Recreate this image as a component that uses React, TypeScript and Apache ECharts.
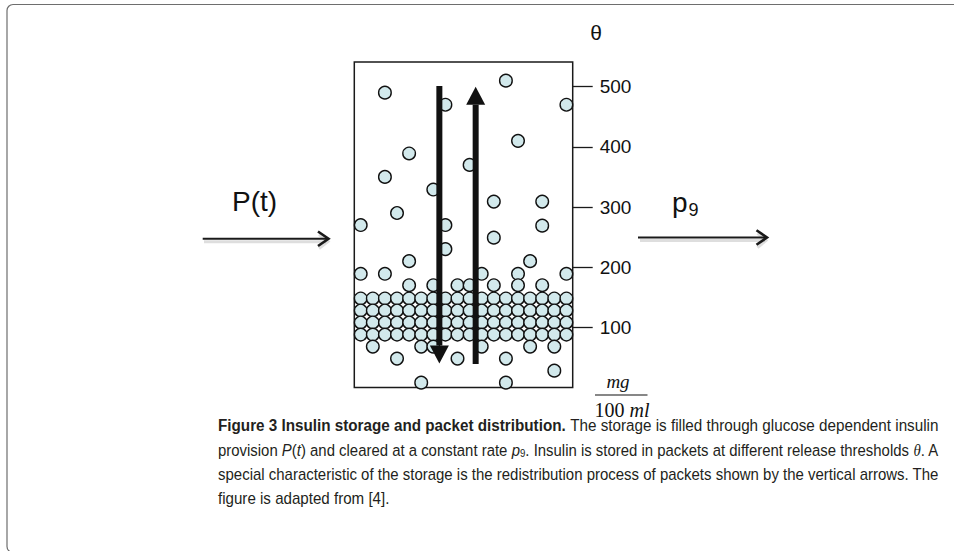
import React, { useEffect, useRef } from "react";
import * as echarts from "echarts";

// Release thresholds (mg/100ml) shown on the right axis
const thetaMin = 100;
const thetaMax = 541;
const thetaStep = 100;

// Dense packet band: column positions and threshold rows
const bandCols = [0, 1, 2, 3, 4, 5, 6, 7, 8, 9, 10, 11, 12, 13, 14, 15, 16, 17];
const bandRows = [148, 128, 108, 88];

// Loose packets: column position and threshold
const looseCol = [2, 7, 12, 17, 13, 4, 2, 9, 6, 11, 15, 3, 0, 7, 15, 11, 7, 4, 14, 0, 2, 10, 13, 17, 4, 6, 8, 9, 11, 13, 15, 1, 5, 6, 10, 14, 16, 3, 8, 12, 16, 5, 12];
const looseTheta = [490, 470, 510, 470, 410, 389, 350, 370, 329, 309, 309, 290, 270, 270, 269, 249, 230, 210, 210, 189, 189, 189, 189, 189, 170, 170, 170, 170, 170, 170, 170, 68, 68, 68, 68, 68, 68, 48, 48, 48, 28, 8, 8];

// Redistribution arrows: column, start threshold, end threshold (tip)
const arrowCol = [6.5, 9.5];
const arrowStart = [501, 39];
const arrowEnd = [40, 500];

export default function App() {
  const ref = useRef<HTMLDivElement>(null);
  useEffect(() => {
    if (!ref.current) return;
    const chart = echarts.init(ref.current, null, { renderer: "svg" });

    const packets: number[][] = [];
    bandRows.forEach((r) => bandCols.forEach((c) => packets.push([c, r])));
    looseCol.forEach((c, i) => packets.push([c, looseTheta[i]]));

    const arrows = arrowCol.map((c, i) => [c, arrowStart[i], arrowEnd[i]]);

    const pxPerUnit = 325.5 / 541;

    const capFont = "'Liberation Sans', Arial, sans-serif";
    const capColor = "#231f20";
    const capSize = 17;
    const rich = {
      b: { fontFamily: capFont, fontSize: capSize, fontWeight: "bold" as const, fill: capColor },
      r: { fontFamily: capFont, fontSize: capSize, fill: capColor },
      i: { fontFamily: capFont, fontSize: capSize, fontStyle: "italic" as const, fill: capColor },
      s: { fontFamily: capFont, fontSize: 11, fill: capColor, verticalAlign: "bottom" as const },
      th: { fontFamily: "'Liberation Serif', serif", fontSize: capSize, fontStyle: "italic" as const, fill: capColor },
    };

    const shadowLine = (x1: number, x2: number, y: number) => ({
      type: "line",
      shape: { x1, y1: y + 3, x2, y2: y + 3 },
      style: { stroke: "rgba(0,0,0,0.13)", lineWidth: 3 },
      silent: true,
    });

    const caption = (y: number, scaleX: number, text: string) => ({
      type: "text",
      x: 218,
      y,
      scaleX,
      style: { text, verticalAlign: "middle", rich },
    });

    chart.setOption({
      animation: false,
      backgroundColor: "#ffffff",
      grid: [
        {
          left: 354.3,
          top: 62,
          width: 218.4,
          height: 325.5,
          show: true,
          borderColor: "#1a1a1a",
          borderWidth: 1.5,
          backgroundColor: "transparent",
        },
        {
          left: 354.3,
          top: 62,
          width: 218.4,
          height: (thetaMax - thetaMin) * pxPerUnit,
          show: false,
        },
      ],
      xAxis: [
        { type: "value", min: -0.53, max: 17.52, show: false, gridIndex: 0 },
        { type: "value", min: 0, max: 1, show: false, gridIndex: 1 },
      ],
      yAxis: [
        { type: "value", min: 0, max: 541, show: false, gridIndex: 0 },
        {
          type: "value",
          gridIndex: 1,
          position: "right",
          min: thetaMin,
          max: thetaMax,
          interval: thetaStep,
          axisLine: { show: false, onZero: false },
          splitLine: { show: false },
          axisTick: {
            show: true,
            inside: false,
            length: 20,
            lineStyle: { color: "#1a1a1a", width: 1.3 },
          },
          axisLabel: {
            margin: 27,
            fontSize: 19,
            color: "#111",
            showMaxLabel: false,
            fontFamily: "'Liberation Sans', Arial, sans-serif",
          },
        },
      ],
      series: [
        {
          type: "scatter",
          xAxisIndex: 0,
          yAxisIndex: 0,
          data: packets,
          symbol: "circle",
          symbolSize: 12.6,
          clip: false,
          z: 2,
          itemStyle: { color: "#d2e9ec", borderColor: "#111", borderWidth: 1.4, opacity: 1 },
        },
        {
          type: "custom",
          xAxisIndex: 0,
          yAxisIndex: 0,
          z: 4,
          clip: false,
          data: arrows,
          renderItem: (params: any, api: any) => {
            const x = api.value(0);
            const p0 = api.coord([x, api.value(1)]);
            const p1 = api.coord([x, api.value(2)]);
            const dir = p1[1] > p0[1] ? 1 : -1;
            const hl = 18;
            const hw = 9.5;
            return {
              type: "group",
              children: [
                {
                  type: "line",
                  shape: { x1: p0[0], y1: p0[1], x2: p1[0], y2: p1[1] - dir * hl },
                  style: { stroke: "#111", lineWidth: 6 },
                },
                {
                  type: "polygon",
                  shape: {
                    points: [
                      [p1[0], p1[1]],
                      [p1[0] - hw, p1[1] - dir * hl],
                      [p1[0] + hw, p1[1] - dir * hl],
                    ],
                  },
                  style: { fill: "#111" },
                },
              ],
            };
          },
        },
      ],
      graphic: [
        {
          type: "rect",
          shape: { x: 7, y: 4.5, width: 1000, height: 548, r: 6 },
          style: { fill: "none", stroke: "#6e6e6e", lineWidth: 1.2 },
          silent: true,
        },
        // theta label
        {
          type: "text",
          x: 596,
          y: 32,
          style: { text: "θ", font: "21px 'Liberation Sans', Arial, sans-serif", fill: "#111", align: "center", verticalAlign: "middle" },
        },
        // input arrow P(t)
        {
          type: "text",
          x: 254.5,
          y: 201,
          style: { text: "P(t)", font: "28px 'Liberation Sans', Arial, sans-serif", fill: "#111", align: "center", verticalAlign: "middle" },
        },
        shadowLine(204, 326, 238.7),
        {
          type: "polyline",
          shape: { points: [[319, 234.5], [328, 241.5], [319, 248.5]] },
          style: { stroke: "rgba(0,0,0,0.13)", lineWidth: 3, fill: "none" },
          silent: true,
        },
        {
          type: "line",
          shape: { x1: 202.7, y1: 238.7, x2: 327.5, y2: 238.7 },
          style: { stroke: "#1a1a1a", lineWidth: 2 },
        },
        {
          type: "polyline",
          shape: { points: [[318, 231.5], [328.5, 238.7], [318, 246]] },
          style: { stroke: "#1a1a1a", lineWidth: 2.6, fill: "none" },
        },
        // output arrow p9
        {
          type: "text",
          x: 672,
          y: 202,
          style: { text: "p", font: "28px 'Liberation Sans', Arial, sans-serif", fill: "#111", align: "left", verticalAlign: "middle" },
        },
        {
          type: "text",
          x: 688.5,
          y: 210,
          style: { text: "9", font: "18px 'Liberation Sans', Arial, sans-serif", fill: "#111", align: "left", verticalAlign: "middle" },
        },
        shadowLine(640, 765, 237.5),
        {
          type: "polyline",
          shape: { points: [[757.5, 233.3], [766, 240.5], [757.5, 247.7]] },
          style: { stroke: "rgba(0,0,0,0.13)", lineWidth: 3, fill: "none" },
          silent: true,
        },
        {
          type: "line",
          shape: { x1: 638, y1: 237.5, x2: 766, y2: 237.5 },
          style: { stroke: "#1a1a1a", lineWidth: 2 },
        },
        {
          type: "polyline",
          shape: { points: [[756.5, 230.3], [767, 237.5], [756.5, 244.7]] },
          style: { stroke: "#1a1a1a", lineWidth: 2.6, fill: "none" },
        },
        // unit fraction
        {
          type: "text",
          x: 618,
          y: 381,
          style: { text: "mg", font: "italic 19px 'Liberation Serif', serif", fill: "#111", align: "center", verticalAlign: "middle" },
        },
        {
          type: "line",
          shape: { x1: 595, y1: 395, x2: 647.5, y2: 395 },
          style: { stroke: "#111", lineWidth: 1.1 },
        },
        {
          type: "text",
          x: 622,
          y: 410,
          style: {
            text: "{n|100 }{m|ml}",
            align: "center",
            verticalAlign: "middle",
            rich: {
              n: { font: "20px 'Liberation Serif', serif", fill: "#111" },
              m: { font: "italic 20px 'Liberation Serif', serif", fill: "#111" },
            },
          },
        },
        // caption
        caption(425, 0.897, "{b|Figure 3 Insulin storage and packet distribution.}{r| The storage is filled through glucose dependent insulin}"),
        caption(450, 0.878, "{r|provision }{i|P}{r|(}{i|t}{r|) and cleared at a constant rate }{i|p}{s|9}{r|. Insulin is stored in packets at different release thresholds }{th|θ}{r|. A}"),
        caption(474, 0.881, "{r|special characteristic of the storage is the redistribution process of packets shown by the vertical arrows. The}"),
        caption(498, 0.89, "{r|figure is adapted from [4].}"),
      ],
    });
    return () => chart.dispose();
  }, []);
  return (
    <div
      ref={ref}
      style={{ position: "fixed", left: 0, top: 0, width: 954, height: 551, background: "#fff" }}
    />
  );
}
